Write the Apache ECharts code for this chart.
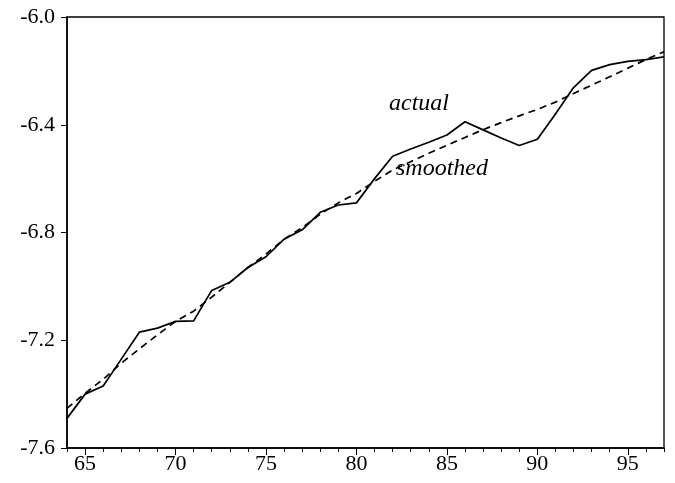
<!DOCTYPE html>
<html>
<head>
<meta charset="utf-8">
<script src="https://cdn.jsdelivr.net/npm/echarts@6/dist/echarts.min.js"></script>
<style>
html,body{margin:0;padding:0;background:#fff;}
#c{width:675px;height:483px;}
</style>
</head>
<body>
<div id="c"></div>
<script>
const years = [64,65,66,67,68,69,70,71,72,73,74,75,76,77,78,79,80,81,82,83,84,85,86,87,88,89,90,91,92,93,94,95,96,97];
const actual = [-7.49,-7.40,-7.37,-7.27,-7.17,-7.155,-7.13,-7.128,-7.015,-6.985,-6.93,-6.89,-6.825,-6.79,-6.725,-6.698,-6.69,-6.60,-6.517,-6.49,-6.465,-6.438,-6.389,-6.419,-6.449,-6.477,-6.454,-6.36,-6.262,-6.198,-6.177,-6.165,-6.158,-6.148];
const smoothed = [-7.453,-7.397,-7.345,-7.285,-7.232,-7.18,-7.13,-7.092,-7.04,-6.985,-6.93,-6.88,-6.825,-6.782,-6.732,-6.69,-6.655,-6.61,-6.568,-6.537,-6.506,-6.476,-6.447,-6.418,-6.392,-6.367,-6.343,-6.316,-6.284,-6.253,-6.222,-6.19,-6.158,-6.129];
const yTicks = {min:-7.6, max:-6.0, step:0.4};
const labels = ['actual','smoothed'];

const font = 'Liberation Serif, Times New Roman, serif';
const chart = echarts.init(document.getElementById('c'), null, {renderer:'canvas'});
const cats = years.map(String);
chart.setOption({
  animation:false,
  backgroundColor:'#fff',
  grid:{left:67,right:11,top:17,bottom:35,show:true,borderColor:'#000',borderWidth:1.3,backgroundColor:'transparent'},
  xAxis:[{
    type:'category',data:cats,boundaryGap:false,position:'bottom',
    axisLine:{show:true,lineStyle:{color:'#000',width:1.6}},
    axisTick:{show:true,interval:0,inside:false,length:4,lineStyle:{color:'#000',width:1}},
    axisLabel:{show:false},splitLine:{show:false}
  },{
    type:'category',data:cats,boundaryGap:false,position:'bottom',gridIndex:0,
    axisLine:{show:false},
    axisTick:{show:true,inside:false,length:7,interval:function(i,v){return (+v)%5===0;},lineStyle:{color:'#000',width:1}},
    axisLabel:{show:true,interval:function(i,v){return (+v)%5===0;},color:'#000',fontFamily:font,fontSize:22,margin:5},
    splitLine:{show:false}
  }],
  yAxis:{
    type:'value',min:yTicks.min,max:yTicks.max,interval:yTicks.step,
    axisLine:{show:true,lineStyle:{color:'#000',width:1.6}},
    axisTick:{show:true,inside:false,length:6,lineStyle:{color:'#000',width:1}},
    axisLabel:{color:'#000',fontFamily:font,fontSize:22,margin:12,formatter:v=>v.toFixed(1)},
    splitLine:{show:false}
  },
  series:[{
    name:'actual',type:'line',data:actual,xAxisIndex:0,symbol:'none',
    lineStyle:{color:'#000',width:1.7,type:'solid'},z:3
  },{
    name:'smoothed',type:'line',data:smoothed,xAxisIndex:0,symbol:'none',
    lineStyle:{color:'#000',width:1.7,type:[7,5]},z:2
  }],
  graphic:[
    {type:'text',left:389,top:92,style:{text:labels[0],font:'italic 24px '+font,fill:'#000'}},
    {type:'text',left:396,top:157,style:{text:labels[1],font:'italic 24px '+font,fill:'#000'}}
  ]
});
</script>
</body>
</html>
